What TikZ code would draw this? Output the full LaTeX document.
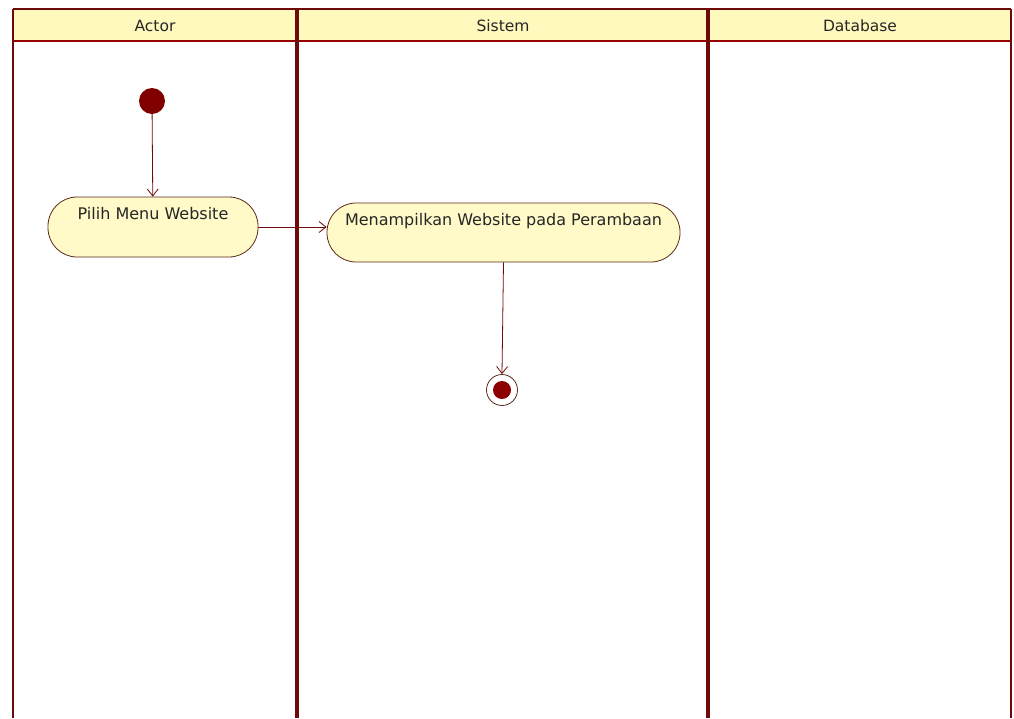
\documentclass[tikz,border=0pt]{standalone}
\usepackage{fontspec}
\setmainfont{DejaVu Sans}
\usetikzlibrary{arrows.meta}
\definecolor{lanered}{HTML}{6E0A0A}
\definecolor{headfill}{HTML}{FFF9BE}
\definecolor{actfill}{HTML}{FFFAC8}
\definecolor{actline}{HTML}{5A2A1A}
\definecolor{dotred}{HTML}{800000}
\tikzset{
  lane/.style={draw=lanered, line width=#1},
  lanehead/.style={font=\fontsize{15.5}{18}\selectfont, text=black!85},
  activity/.style={draw=actline, fill=actfill, line width=0.8pt, rounded corners=29pt},
  acttext/.style={font=\fontsize{16}{18}\selectfont, text=black!85},
  flow/.style={draw=lanered, line width=0.8pt, -{Straight Barb[length=7pt,width=11pt]}},
}
\begin{document}
\begin{tikzpicture}[x=1pt,y=-1pt]
  \useasboundingbox (0,0) rectangle (1014,718);
  % swimlane headers
  \fill[headfill] (13,9) rectangle (1011,41);
  \draw[lane=1.6pt] (13,9) -- (1011,9);
  \draw[draw=red!60!black, line width=1.6pt] (13,41) -- (1011,41);
  \draw[lane=1.8pt] (13,9) -- (13,718);
  \draw[lane=4pt] (297,9) -- (297,718);
  \draw[lane=4pt] (708,9) -- (708,718);
  \draw[lane=1.4pt] (1011,9) -- (1011,718);
  \node[lanehead] (hActor) at (155,26) {Actor};
  \node[lanehead] (hSistem) at (503,26) {Sistem};
  \node[lanehead] (hDb) at (860,26) {Database};
  % flow
  \node[circle, fill=dotred, minimum size=26pt, inner sep=0pt] (start) at (152,101) {};
  \node[activity, minimum width=210pt, minimum height=60pt] (pilih) at (153,227) {};
  \node[acttext] (pilihT) at (153,214) {Pilih Menu Website};
  \node[activity, minimum width=353pt, minimum height=59pt] (tampil) at (503.5,232.5) {};
  \node[acttext] (tampilT) at (503.5,221) {Menampilkan Website pada Perambaan};
  \node[circle, draw=actline, fill=white, line width=0.8pt, minimum size=31pt, inner sep=0pt] (stop) at (502,390) {};
  \node[circle, fill=dotred!90!red, minimum size=18pt, inner sep=0pt] (stopdot) at (stop.center) {};
  \draw[flow] (start) -- (pilih);
  \draw[flow] (pilih.east) -- (tampil.west |- pilih.east);
  \draw[flow] (tampil.south) -- (stop.north);
\end{tikzpicture}
\end{document}
